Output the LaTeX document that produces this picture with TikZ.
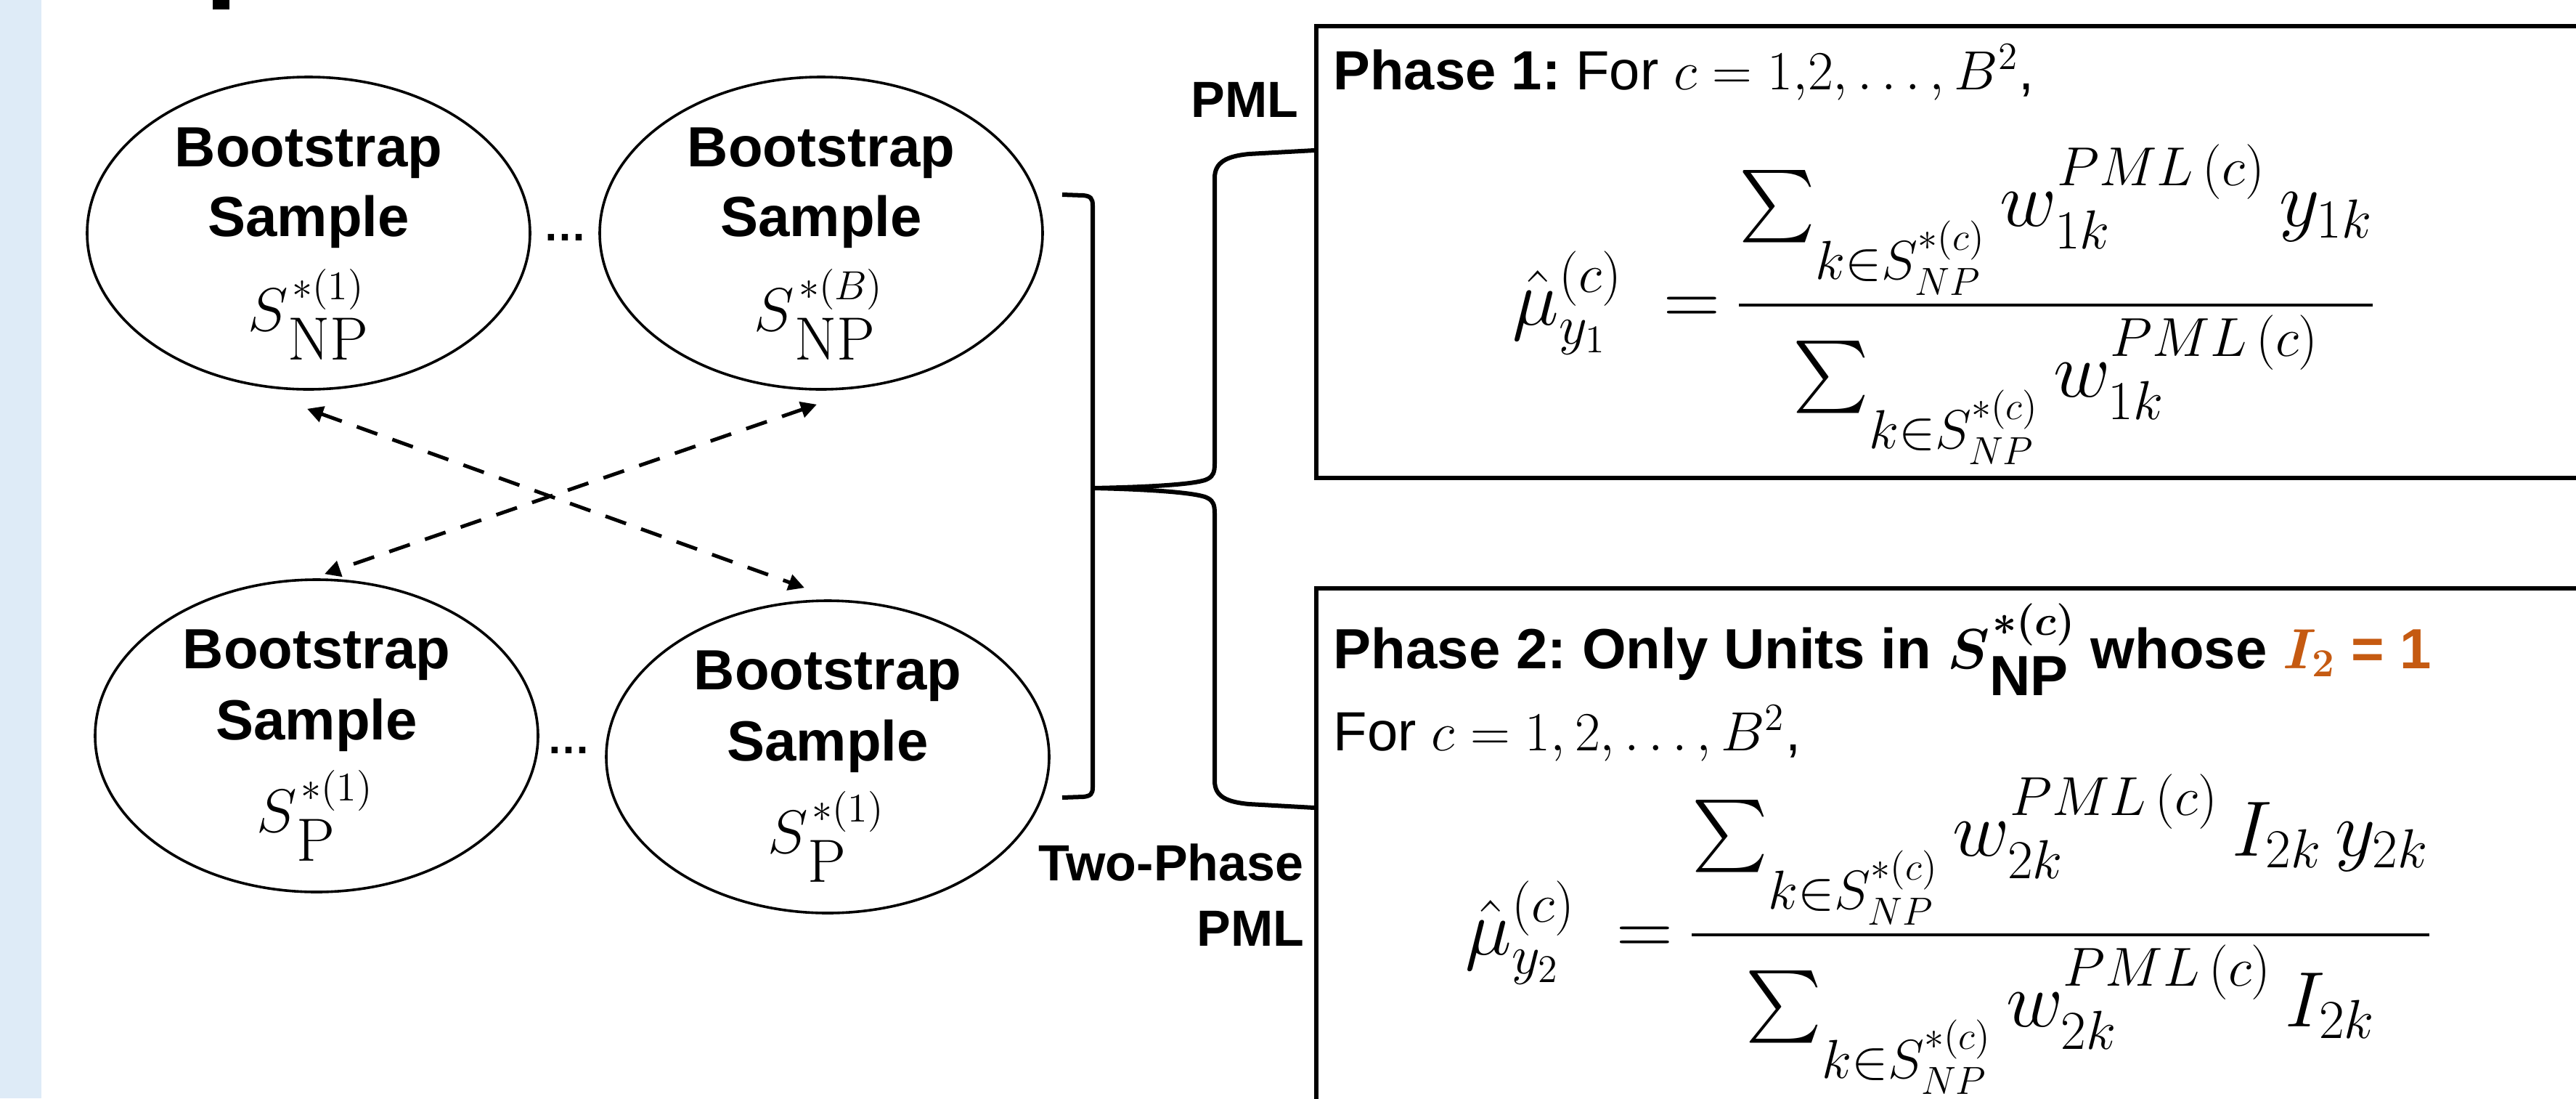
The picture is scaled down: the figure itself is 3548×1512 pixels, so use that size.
\RequirePackage{fix-cm}
\documentclass[tikz,border=0pt]{standalone}
\usepackage{amsmath}
\usepackage{graphicx}
\usepackage[no-math]{fontspec}
\setmainfont{Liberation Sans}
\usepackage{bm}
\usetikzlibrary{arrows.meta,calc,shapes.geometric}
\definecolor{stripblue}{HTML}{DEEBF7}
\definecolor{accorange}{HTML}{C55A11}
\newcommand{\nsub}[1]{\raisebox{-11.5pt}{$\scriptstyle #1$}}
\newcommand{\dsub}[1]{\raisebox{-11pt}{$\scriptstyle #1$}}
\newcommand{\eqsign}{\mkern4.5mu=\mkern-1.5mu}
\frenchspacing
\begin{document}
\begin{tikzpicture}[x=0.25pt,y=-0.25pt,
  samp/.style={ellipse, draw, line width=0.9pt, minimum width=152.5pt, minimum height=107.5pt, inner sep=0pt},
  btxt/.style={font=\fontsize{19.5}{23}\selectfont\bfseries, anchor=base, inner sep=0pt},
  mtxt/.style={font=\fontsize{21}{24}\selectfont, anchor=base, inner sep=0pt},
  dasharrow/.style={line width=1.25pt, dash pattern=on 7.5pt off 5.5pt, {Triangle[length=5.5pt,width=5.5pt]}-{Triangle[length=5.5pt,width=5.5pt]}},
  brk/.style={line width=1.5pt},
  boxst/.style={draw, line width=1.6pt, rectangle, inner sep=0pt, anchor=north west},
  lbl/.style={font=\fontsize{17.5}{22}\selectfont\bfseries, inner sep=0pt, anchor=base east},
  htxt/.style={font=\fontsize{19}{23}\selectfont, inner sep=0pt, anchor=base west},
  eqtxt/.style={font=\fontsize{27}{32}\selectfont, inner sep=0pt, anchor=base west}]
\useasboundingbox (0,0) rectangle (3548,1512);
% side strip and cut-off fragment
\fill[stripblue] (0,0) rectangle (57,1512);
\fill (293,0) rectangle (316,13);

% ellipses
\node[samp] (E1) at (425,321) {};
\node[samp] (E2) at (1131,321) {};
\node[samp] (E3) at (436,1013) {};
\node[samp] (E4) at (1140,1042) {};

\node[btxt] (E1a) at ($(E1.center)+(0,-92)$) {Bootstrap};
\node[btxt] (E1b) at ($(E1.center)+(0,4)$) {Sample};
\node[mtxt] (E1c) at ($(E1.center)+(-4,134)$) {$S$\rlap{\raisebox{-10pt}{$\mathrm{NP}$}}\hspace{1.5pt}\raisebox{10.75pt}{\fontsize{14}{15}\selectfont$*(1)$}};

\node[btxt] (E2a) at ($(E2.center)+(0,-92)$) {Bootstrap};
\node[btxt] (E2b) at ($(E2.center)+(0,4)$) {Sample};
\node[mtxt] (E2c) at ($(E2.center)+(-4,134)$) {$S$\rlap{\raisebox{-10pt}{$\mathrm{NP}$}}\hspace{1.5pt}\raisebox{10.75pt}{\fontsize{14}{15}\selectfont$*(B)$}};

\node[btxt] (E3a) at ($(E3.center)+(0,-93)$) {Bootstrap};
\node[btxt] (E3b) at ($(E3.center)+(0,5)$) {Sample};
\node[mtxt] (E3c) at ($(E3.center)+(-3,132)$) {$S$\rlap{\raisebox{-10pt}{$\mathrm{P}$}}\hspace{1.5pt}\raisebox{10.75pt}{\fontsize{14}{15}\selectfont$*(1)$}};

\node[btxt] (E4a) at ($(E4.center)+(0,-93)$) {Bootstrap};
\node[btxt] (E4b) at ($(E4.center)+(0,5)$) {Sample};
\node[mtxt] (E4c) at ($(E4.center)+(-3,132)$) {$S$\rlap{\raisebox{-10pt}{$\mathrm{P}$}}\hspace{1.5pt}\raisebox{10.75pt}{\fontsize{14}{15}\selectfont$*(1)$}};

% ellipsis dots
\node[font=\fontsize{15}{18}\selectfont\bfseries, anchor=base, inner sep=0pt] (D1) at (778,331) {…};
\node[font=\fontsize{15}{18}\selectfont\bfseries, anchor=base, inner sep=0pt] (D2) at (783,1037) {…};

% dashed double arrows
\draw[dasharrow] ($(E1.south)+(-2,25)$) -- ($(E4.north)+(-32,-16)$);
\draw[dasharrow] ($(E2.south)+(-6,19)$) -- ($(E3.north)+(11,-6)$);

% boxes
\node[boxst, minimum width=460pt, minimum height=155.5pt] (P1) at (1810,33) {};
\node[boxst, minimum width=460pt, minimum height=200pt] (P2) at (1810,807) {};

% bracket
\coordinate (bt) at (1463,268);
\coordinate (bb) at (1463,1098);
\coordinate (tip) at (1505,672);
\draw[brk] (bt) -- (1492,269) .. controls (1502,270) and (1505,273) .. (1505,283) -- (1505,1084) .. controls (1505,1093) and (1502,1096) .. (1492,1097) -- (bb);

% brace to the two boxes
\draw[brk] (tip) .. controls (1560,671) and (1650,668) .. (1664,659) .. controls (1671,655) and (1673,650) .. (1673,638) -- (1673,245) .. controls (1673,223) and (1690,215) .. (1720,212) -- ($(P1.north west)+(0,174)$);
\draw[brk] (tip) .. controls (1560,673) and (1650,677) .. (1664,686) .. controls (1671,690) and (1673,695) .. (1673,707) -- (1673,1075) .. controls (1673,1097) and (1690,1104) .. (1720,1107) -- ($(P2.north west)+(0,305)$);

% labels
\node[lbl] (L1) at (1789,161) {PML};
\node[lbl] (L2a) at (1796,1212) {Two-Phase};
\node[lbl] (L2b) at (1797,1302) {PML};

% phase 1
\node[htxt] (H1) at (1836,123) {\textbf{Phase 1:} For $c = 1{,}2,\ldots,B^{2}$,};
\node[eqtxt] (F1) at (2083,447) {$\displaystyle \hat{\mu}^{(c)}_{y_1} \eqsign \frac{\sum\nolimits_{\nsub{k\in S^{*(c)}_{NP}}} w^{PML\,(c)}_{1k}\,y_{1k}}{\sum\nolimits_{\dsub{k\in S^{*(c)}_{NP}}} w^{PML\,(c)}_{1k}}$};

% phase 2
\node[htxt, font=\fontsize{19.5}{23}\selectfont\bfseries] (H2) at (1836,920) {Phase 2: Only Units in $\bm{S}$\rlap{\raisebox{-9.25pt}{NP}}\hspace{1pt}\raisebox{11.5pt}{\fontsize{14.5}{15}\selectfont$\bm{*(c)}$} whose \textcolor{accorange}{$\bm{I}_{\mathbf{2}}$ = 1}};
\node[htxt] (H3) at (1836,1033) {For $c = 1, 2, \ldots, B^{2}$,};
\node[eqtxt] (F2) at (2018,1314) {$\displaystyle \hat{\mu}^{(c)}_{y_2} \eqsign \frac{\sum\nolimits_{\nsub{k\in S^{*(c)}_{NP}}} w^{PML\,(c)}_{2k}\,I_{2k}\,y_{2k}}{\sum\nolimits_{\dsub{k\in S^{*(c)}_{NP}}} w^{PML\,(c)}_{2k}\,I_{2k}}$};
\end{tikzpicture}
\end{document}
